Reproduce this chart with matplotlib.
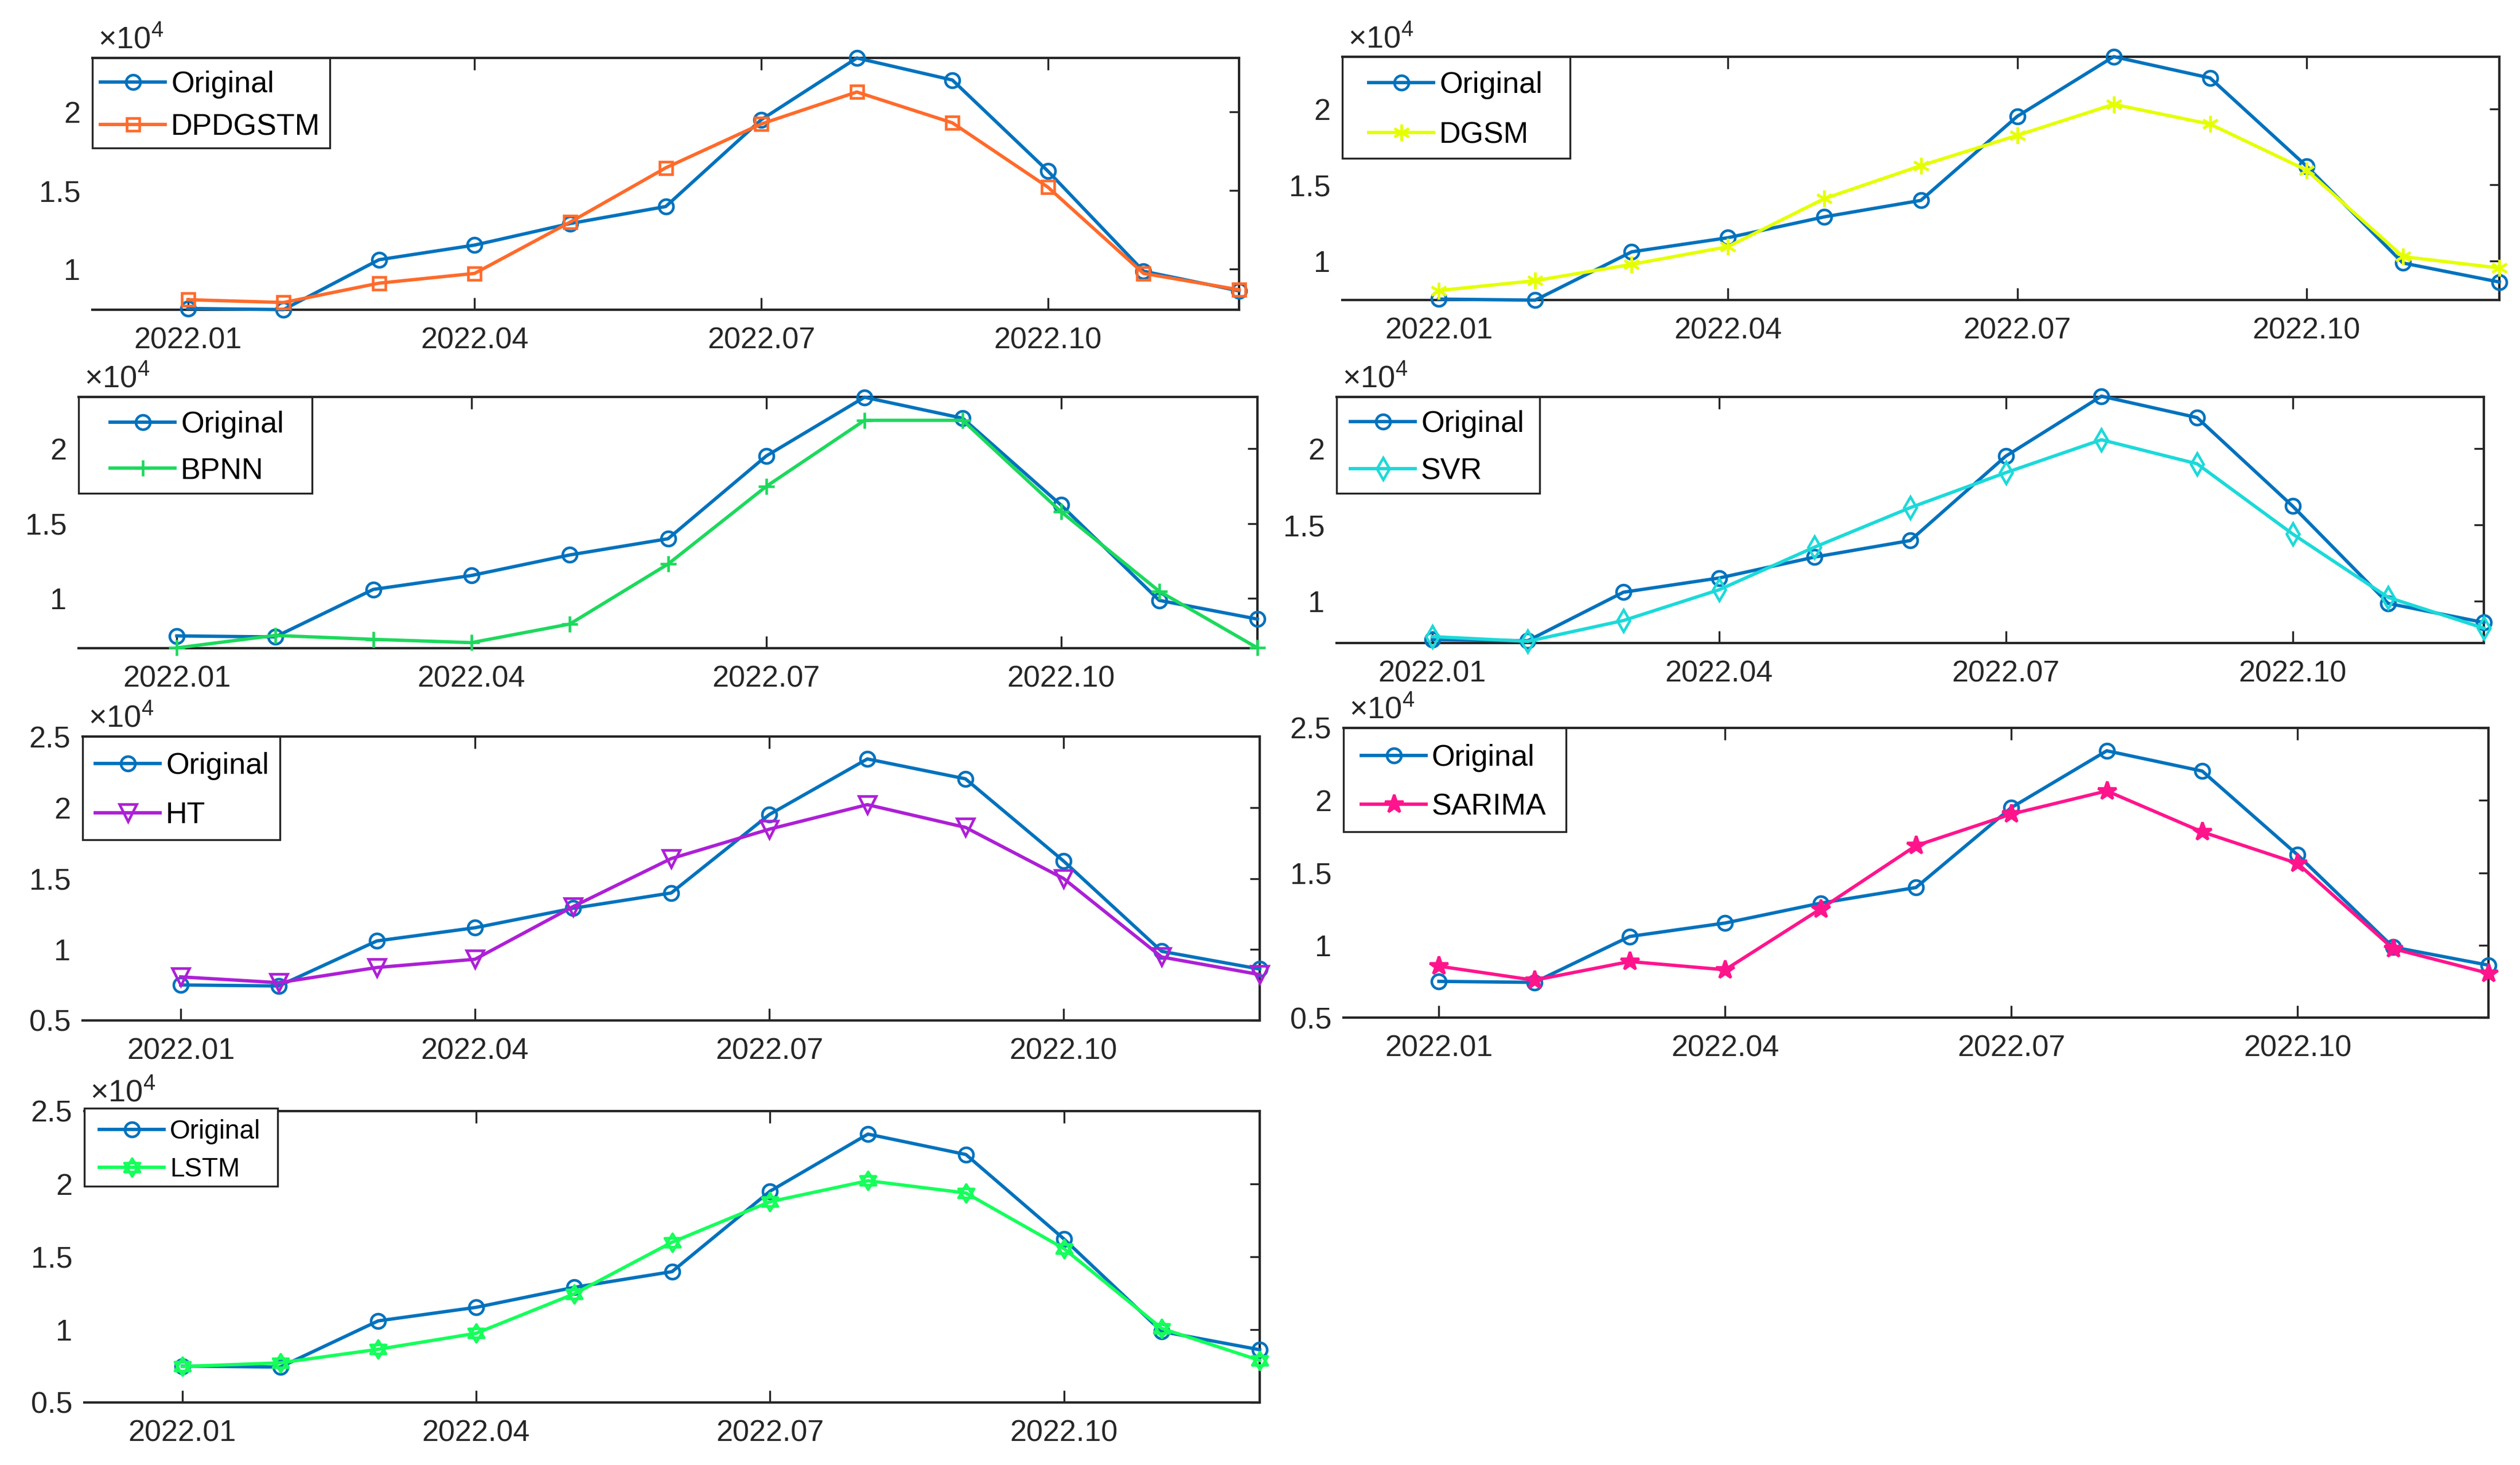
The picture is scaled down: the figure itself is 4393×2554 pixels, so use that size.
import numpy as np
import matplotlib
matplotlib.use("Agg")
import matplotlib.pyplot as plt
from matplotlib.path import Path
from matplotlib.patches import Rectangle
from matplotlib.ticker import FuncFormatter, FixedLocator

plt.rcParams['font.family'] = ['Liberation Sans', 'DejaVu Sans']
plt.rcParams['mathtext.fontset'] = 'custom'
plt.rcParams['mathtext.rm'] = 'Liberation Sans'
plt.rcParams['mathtext.it'] = 'Liberation Sans'

# ---------------- data ----------------
months = list(range(1, 13))
tick_months = [1, 4, 7, 10]
tick_labels = ['2022.01', '2022.04', '2022.07', '2022.10']

original = [7500, 7430, 10600, 11530, 12900, 13980, 19500, 23420, 22020, 16230, 9870, 8620]
dpdgstm = [8060, 7880, 9110, 9730, 12990, 16440, 19230, 21260, 19300, 15210, 9730, 8690]
dgsm = [8060, 8710, 9780, 10940, 14100, 16260, 18250, 20290, 18990, 15970, 10290, 9540]
bpnn = [6700, 7530, 7270, 7050, 8290, 12290, 17470, 21880, 21880, 15790, 10480, 6700]
svr = [7700, 7390, 8750, 10760, 13550, 16130, 18420, 20570, 19000, 14410, 10260, 8250]
ht = [8070, 7660, 8730, 9310, 13020, 16400, 18470, 20200, 18600, 15000, 9470, 8230]
sarima = [8550, 7580, 8870, 8300, 12500, 16870, 19050, 20650, 17820, 15640, 9760, 8060]
lstm = [7470, 7720, 8650, 9750, 12450, 16000, 18780, 20220, 19380, 15570, 10080, 7890]

model_names = ['DPDGSTM', 'DGSM', 'BPNN', 'SVR', 'HT', 'SARIMA', 'LSTM']
model_values = [dpdgstm, dgsm, bpnn, svr, ht, sarima, lstm]

# ---------------- styles ----------------
W, H = 4393, 2554
DPI = 300
orig_color = '#0072BD'
model_colors = ['#FF6A2A', '#E4FF00', '#1CD95C', '#1CD9D9', '#AD1FD6', '#FF148C', '#14FF5A']

def hexagram():
    a = np.deg2rad([90, 210, 330])
    b = np.deg2rad([270, 30, 150])
    verts, codes = [], []
    for ang in (a, b):
        pts = [(np.cos(t), np.sin(t)) for t in ang]
        verts += pts + [pts[0]]
        codes += [Path.MOVETO, Path.LINETO, Path.LINETO, Path.CLOSEPOLY]
    return Path(verts, codes)

asterisk = (6, 2, 0)
model_markers = ['s', asterisk, '+', 'd', 'v', '*', hexagram()]
model_msize = [5.5, 7, 6.5, 6.3, 7, 8, 7.5]
model_mfc = ['none', 'none', 'none', 'none', 'none', None, 'none']

# axes rectangles in pixels: left, right, top, bottom
rects_px = [
    (161, 2160, 101, 540),
    (2340, 4357, 99, 523),
    (137, 2192, 692, 1130),
    (2330, 4330, 692, 1121),
    (144, 2196, 1284, 1779),
    (2342, 4338, 1269, 1774),
    (147, 2196, 1937, 2445),
]
ylims = [
    (7420, 23425),
    (7440, 23410),
    (6680, 23440),
    (7280, 23370),
    (5000, 25000),
    (5000, 25000),
    (5000, 25000),
]
yticks_small = [10000, 15000, 20000]
yticks_big = [5000, 10000, 15000, 20000, 25000]

# legend layout in pixels: box (l, r, t, b), handle start x, row centres (y1, y2), font size
leg_box = [
    (161, 575, 101, 258),
    (2340, 2737, 99, 276),
    (137, 544, 692, 860),
    (2330, 2684, 692, 860),
    (144, 488, 1284, 1464),
    (2342, 2730, 1269, 1450),
    (147, 484, 1932, 2068),
]
leg_hx = [175, 2386, 192, 2354, 166, 2373, 173]
leg_rows = [(143.5, 216), (145, 230), (737, 815), (736, 816), (1332, 1415.5), (1318, 1401), (1969, 2033)]
leg_font = [12.5, 12.5, 12.5, 12.5, 12.5, 12.5, 11]
ROW_EM = 0.9
ROW_SHIFT = 5

fig = plt.figure(figsize=(W / DPI, H / DPI), dpi=DPI)
fmt = FuncFormatter(lambda v, p: '{:g}'.format(round(v / 1e4, 2)))

for i in range(7):
    l, r, t, b = rects_px[i]
    ax = fig.add_axes([l / W, 1 - b / H, (r - l) / W, (b - t) / H])
    ax.plot(months, original, '-', color=orig_color, lw=1.4, marker='o',
            ms=6, mfc='none', mec=orig_color, mew=1.1, label='Original', clip_on=False, zorder=3)
    mfc = model_mfc[i] if model_mfc[i] is not None else model_colors[i]
    ax.plot(months, model_values[i], '-', color=model_colors[i], lw=1.4,
            marker=model_markers[i], ms=model_msize[i], mfc=mfc,
            mec=model_colors[i], mew=1.1, label=model_names[i], clip_on=False, zorder=3)
    ax.set_xlim(0, 12)
    ax.set_ylim(*ylims[i])
    ax.xaxis.set_major_locator(FixedLocator(tick_months))
    ax.set_xticklabels(tick_labels)
    ax.yaxis.set_major_locator(FixedLocator(yticks_big if i >= 4 else yticks_small))
    ax.yaxis.set_major_formatter(fmt)
    ax.spines['left'].set_visible(False)
    for s in ('top', 'bottom', 'right'):
        ax.spines[s].set_linewidth(1.0)
        ax.spines[s].set_color('#262626')
    ax.tick_params(axis='x', direction='in', top=True, bottom=True, length=5,
                   width=0.8, labelsize=12.5, pad=7, colors='#262626')
    ax.tick_params(axis='y', direction='in', left=False, right=True, labelleft=True,
                   length=4, width=0.8, labelsize=12.5, pad=5, colors='#262626')
    ax.text(0.005, 1.012, r'$\mathregular{\times 10^4}$', transform=ax.transAxes,
            fontsize=13, color='#262626', ha='left', va='bottom')

    # legend frame
    bl, br, bt, bb = leg_box[i]
    ax.add_patch(Rectangle((bl / W, 1 - bb / H), (br - bl) / W, (bb - bt) / H,
                           transform=fig.transFigure, facecolor='white',
                           edgecolor='#262626', lw=0.8, clip_on=False, zorder=4))
    fs = leg_font[i]
    fs_px = fs * DPI / 72
    y1, y2 = leg_rows[i]
    spacing = (y2 - y1) / fs_px - ROW_EM
    ymid = (y1 + y2) / 2 + ROW_SHIFT
    leg = ax.legend(loc='center left', bbox_to_anchor=(leg_hx[i] / W, 1 - ymid / H),
                    bbox_transform=fig.transFigure, borderaxespad=0, borderpad=0,
                    fontsize=fs, frameon=False, labelspacing=spacing,
                    handlelength=113 / fs_px, handletextpad=10 / fs_px)
    leg.set_zorder(5)

fig.savefig('out.png', dpi=DPI)
